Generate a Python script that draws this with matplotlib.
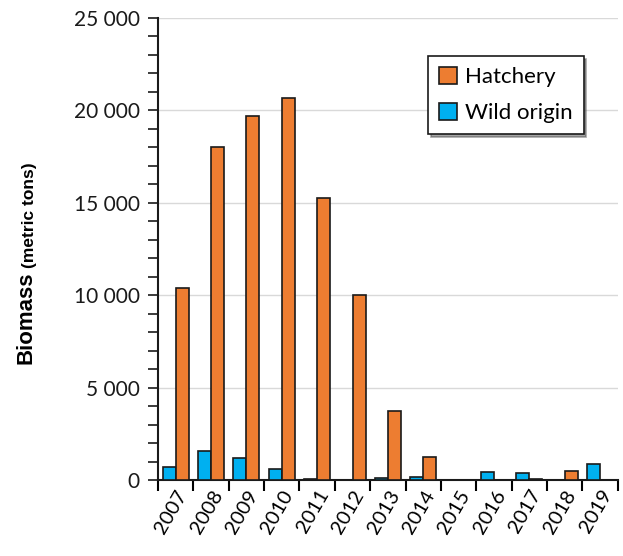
import numpy as np
import matplotlib.pyplot as plt
from matplotlib.ticker import MultipleLocator, FuncFormatter

years = ['2007', '2008', '2009', '2010', '2011', '2012', '2013',
         '2014', '2015', '2016', '2017', '2018', '2019']
hatchery = [10400, 18000, 19700, 20650, 15250, 10000, 3750,
            1250, 0, 0, 70, 480, 0]
wild = [700, 1550, 1170, 580, 50, 0, 90,
        150, 0, 430, 360, 0, 880]

plt.rcParams['font.family'] = ['Lato', 'DejaVu Sans']

fig = plt.figure(figsize=(6.23, 5.56), dpi=100)
ax = fig.add_axes([0.2536, 0.1367, 0.738, 0.831])

x = np.arange(len(years))
width = 0.37
ax.bar(x - width / 2, wild, width, color='#00B0F0', edgecolor='#1a1a1a',
       linewidth=1.2, label='Wild origin', zorder=3)
ax.bar(x + width / 2, hatchery, width, color='#ED7D31', edgecolor='#1a1a1a',
       linewidth=1.2, label='Hatchery', zorder=3)

ax.set_xlim(-0.5, len(years) - 0.5)
ax.set_ylim(0, 25000)

# y axis
ax.yaxis.set_major_locator(MultipleLocator(5000))
ax.yaxis.set_minor_locator(MultipleLocator(1000))
ax.yaxis.set_major_formatter(FuncFormatter(lambda v, p: f'{int(v):,}'.replace(',', ' ')))
ax.tick_params(axis='y', which='both', direction='out', length=7, width=1.2,
               labelsize=15, pad=6, colors='#1a1a1a')
ax.grid(axis='y', which='major', color='#d9d9d9', linewidth=1, zorder=0)

# x axis: labels at centers, ticks at group boundaries
ax.set_xticks(x)
ax.set_xticklabels(years, rotation=60, ha='right', rotation_mode='anchor')
ax.set_xticks(np.arange(-0.5, len(years)), minor=True)
ax.tick_params(axis='x', which='major', length=0, labelsize=14.5, pad=5)
ax.tick_params(axis='x', which='minor', direction='out', length=8, width=1.5)

for s in ['top', 'right']:
    ax.spines[s].set_visible(False)
for s in ['left', 'bottom']:
    ax.spines[s].set_linewidth(1.5)
    ax.spines[s].set_color('#1a1a1a')

fig.text(0.042, 0.429, 'Biomass', rotation=90, fontsize=16, fontweight='bold',
         family='Liberation Sans', ha='center', va='center')
fig.text(0.047, 0.613, '(metric tons)', rotation=90, fontsize=12.5, fontweight='bold',
         family='Liberation Sans', ha='center', va='center')

handles, labels = ax.get_legend_handles_labels()
leg = ax.legend(handles[::-1], labels[::-1], loc='upper right',
                bbox_to_anchor=(0.95, 0.942), fontsize=16, frameon=True,
                fancybox=False, shadow=True, handlelength=0.8, handleheight=0.8,
                handletextpad=0.35, borderpad=0.5, labelspacing=0.7)
leg.get_frame().set_edgecolor('#1a1a1a')
leg.get_frame().set_linewidth(1.2)

fig.savefig('out.png', dpi=100)
